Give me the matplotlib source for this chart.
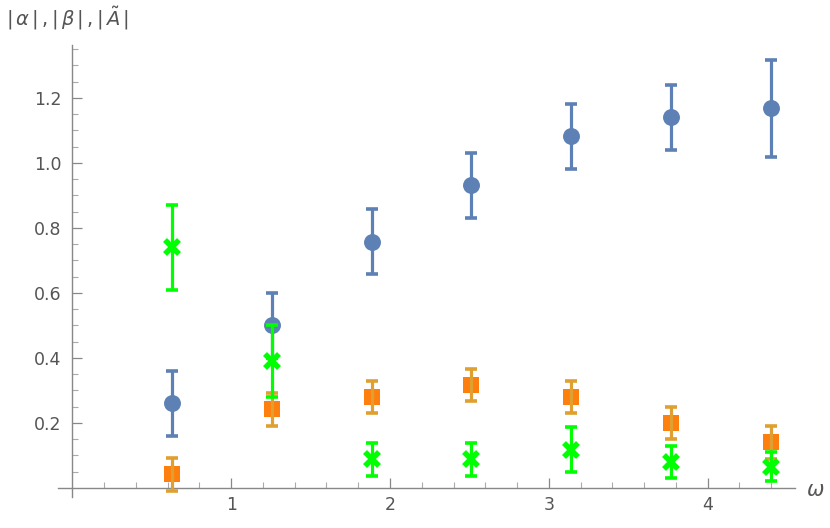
import numpy as np
import matplotlib.pyplot as plt

# omega = k*pi/5
omega = [0.628, 1.257, 1.885, 2.513, 3.142, 3.770, 4.398]

alpha = [0.26, 0.50, 0.757, 0.932, 1.082, 1.14, 1.168]
alpha_err = [0.10, 0.10, 0.10, 0.10, 0.10, 0.10, 0.15]

beta = [0.042, 0.242, 0.28, 0.316, 0.28, 0.20, 0.14]
beta_err = [0.05, 0.05, 0.05, 0.05, 0.05, 0.05, 0.05]

atil = [0.74, 0.39, 0.088, 0.088, 0.118, 0.08, 0.065]
atil_err = [0.13, 0.11, 0.05, 0.05, 0.07, 0.05, 0.045]

W, H = 830, 528
fig = plt.figure(figsize=(W / 100, H / 100), dpi=100)
ax = fig.add_axes([58 / W, (H - 497) / H, (795 - 58) / W, (497 - 45) / H])
ax.set_xlim(-0.09, 4.55)
ax.set_ylim(-0.028, 1.363)

series = [
    (alpha, alpha_err, 'o', '#5E81B5', '#5E81B5', 12.2, 0),
    (beta, beta_err, 's', '#FF7F0E', '#E0A030', 12, 0),
    (atil, atil_err, 'x', '#00FF00', '#00FF00', 10.5, 4),
]
for i, (y, e, m, mc, ec, ms, mew) in enumerate(series):
    ax.plot(omega, y, ls='none', marker=m, color=mc, ms=ms, mew=mew, zorder=3 + 2 * i)
    ax.errorbar(omega, y, yerr=e, fmt='none', ecolor=ec, elinewidth=2.3,
                capsize=4, capthick=2.6, zorder=4 + 2 * i)

gray = '#888888'
for s in ['top', 'right']:
    ax.spines[s].set_visible(False)
ax.spines['left'].set_position(('data', 0))
ax.spines['bottom'].set_position(('data', 0))
for s in ['left', 'bottom']:
    ax.spines[s].set_color(gray)
    ax.spines[s].set_linewidth(1.0)

ax.set_xticks([1, 2, 3, 4])
ax.set_xticks(np.arange(0.2, 4.5, 0.2), minor=True)
ax.set_yticks([0.2, 0.4, 0.6, 0.8, 1.0, 1.2])
ax.set_yticklabels(['0.2', '0.4', '0.6', '0.8', '1.0', '1.2'])
ax.set_yticks(np.arange(0.05, 1.36, 0.05), minor=True)
ax.tick_params(which='major', direction='in', length=7, color=gray, labelcolor='#555555',
               labelsize=12.5, width=0.9)
ax.tick_params(which='minor', direction='in', length=4, color='#aaaaaa', width=0.8)
ax.tick_params(axis='x', pad=6)
ax.tick_params(axis='y', pad=8)

fig.text(6 / W, 1 - 18 / H, r'$|\,\alpha\,|\,,|\,\beta\,|\,,|\,\tilde{A}\,|$',
         fontsize=14, color='#555555', va='center', ha='left')
fig.text(806 / W, 1 - 490 / H, r'$\omega$', fontsize=15, color='#555555',
         va='center', ha='left')

fig.savefig('out.png', dpi=100)
